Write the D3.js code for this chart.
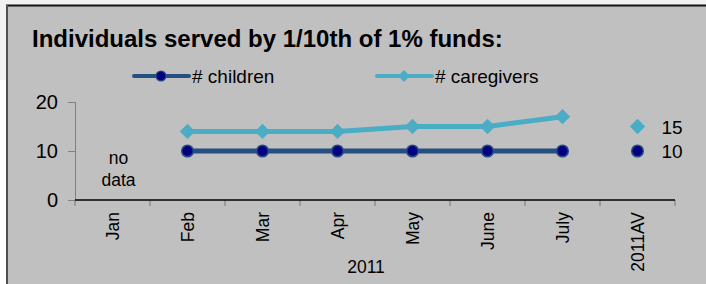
<!DOCTYPE html>
<html>
<head>
<meta charset="utf-8">
<script src="https://cdn.jsdelivr.net/npm/d3@7"></script>
<style>
  html, body { margin: 0; padding: 0; background: #fff; }
  svg { display: block; font-family: "Liberation Sans", Arial, sans-serif; }
</style>
</head>
<body>
<svg id="chart" width="706" height="284"></svg>
<script>
// data
let categories = ["Jan", "Feb", "Mar", "Apr", "May", "June", "July", "2011AV"];
let monthCats = categories.slice(0, 7);
let children = [null, 10, 10, 10, 10, 10, 10];
let caregivers = [null, 14, 14, 14, 15, 15, 17];
let avgCategory = "2011AV";
let avgChildren = 10;
let avgCaregivers = 15;
let yTicks = [0, 10, 20];

let darkBlue = "#254e82";
let navy = "#000080";
let lightBlue = "#4bacc6";

let svg = d3.select("#chart");

// page edges round the chart box
svg.append("rect").attr("x", 0).attr("y", 0).attr("width", 706).attr("height", 6).attr("fill", "#f2f2f2");
svg.append("rect").attr("x", 0).attr("y", 0).attr("width", 7).attr("height", 80).attr("fill", "#f2f2f2");

// chart box
svg.append("rect").attr("x", 7).attr("y", 6).attr("width", 699).attr("height", 278).attr("fill", "#c0c0c0");
svg.append("line").attr("x1", 6).attr("x2", 706).attr("y1", 5.5).attr("y2", 5.5)
    .attr("stroke", "#111").attr("stroke-width", 2);
svg.append("line").attr("x1", 7).attr("x2", 7).attr("y1", 5).attr("y2", 284)
    .attr("stroke", "#505050").attr("stroke-width", 2);

// title
svg.append("text")
    .attr("x", 32).attr("y", 47)
    .attr("font-size", 24).attr("font-weight", "bold")
    .attr("fill", "#000")
    .text("Individuals served by 1/10th of 1% funds:");

let x = d3.scaleBand().domain(categories).range([75, 675]);
let y = d3.scaleLinear().domain([0, 20]).range([200, 102]);

// y axis
let yAxis = svg.append("g")
    .attr("transform", "translate(75,0)")
    .call(d3.axisLeft(y).tickValues(yTicks).tickSize(7).tickPadding(10));
yAxis.select(".domain").attr("stroke", "#808080");
yAxis.selectAll(".tick line").attr("stroke", "#808080");
yAxis.selectAll(".tick text")
    .attr("font-size", 20).attr("fill", "#000")
    .attr("font-family", "Liberation Sans, Arial, sans-serif");

// x axis: ticks between categories
let xAxis = svg.append("g").attr("transform", "translate(0,200)");
let bounds = categories.map(c => x(c)).concat([x.range()[1]]);
xAxis.selectAll("line.tk").data(bounds).enter().append("line")
    .attr("class", "tk")
    .attr("x1", d => d).attr("x2", d => d)
    .attr("y1", 0).attr("y2", 6)
    .attr("stroke", "#808080").attr("stroke-width", 1.2);
xAxis.append("line")
    .attr("x1", x.range()[0]).attr("x2", x.range()[1])
    .attr("y1", 0).attr("y2", 0)
    .attr("stroke", "#000").attr("stroke-width", 1.4);
xAxis.selectAll("text.lbl").data(categories).enter().append("text")
    .attr("class", "lbl")
    .attr("transform", d => "translate(" + (x(d) + x.bandwidth() / 2 + 6) + ",12) rotate(-90)")
    .attr("text-anchor", "end")
    .attr("font-size", 17.5)
    .attr("fill", "#000")
    .text(d => d);

svg.append("text")
    .attr("x", 366).attr("y", 273)
    .attr("text-anchor", "middle").attr("font-size", 17.5)
    .text("2011");

// no data note
let noData = svg.append("text")
    .attr("x", x("Jan") + x.bandwidth() / 2 + 6)
    .attr("text-anchor", "middle").attr("font-size", 17.5);
noData.append("tspan").attr("x", x("Jan") + x.bandwidth() / 2 + 6).attr("y", 164).text("no");
noData.append("tspan").attr("x", x("Jan") + x.bandwidth() / 2 + 6).attr("y", 186).text("data");

let cx = c => x(c) + x.bandwidth() / 2;

let line = d3.line()
    .defined(d => d.v != null)
    .x(d => cx(d.c))
    .y(d => y(d.v));

let careData = monthCats.map((c, i) => ({c: c, v: caregivers[i]}));
let childData = monthCats.map((c, i) => ({c: c, v: children[i]}));

let diamond = d3.symbol().type(d3.symbolDiamond2);

// caregivers series
svg.append("path")
    .datum(careData)
    .attr("d", line)
    .attr("fill", "none").attr("stroke", lightBlue).attr("stroke-width", 5);
svg.selectAll("path.care").data(careData.filter(d => d.v != null)).enter().append("path")
    .attr("class", "care")
    .attr("transform", d => "translate(" + cx(d.c) + "," + y(d.v) + ")")
    .attr("d", diamond.size(150))
    .attr("fill", lightBlue);

// children series
svg.append("path")
    .datum(childData)
    .attr("d", line)
    .attr("fill", "none").attr("stroke", darkBlue).attr("stroke-width", 5);
svg.selectAll("circle.child").data(childData.filter(d => d.v != null)).enter().append("circle")
    .attr("class", "child")
    .attr("cx", d => cx(d.c)).attr("cy", d => y(d.v))
    .attr("r", 5.8)
    .attr("fill", navy).attr("stroke", darkBlue).attr("stroke-width", 1.5);

// yearly averages, markers only with labels
svg.append("path")
    .attr("transform", "translate(" + cx(avgCategory) + "," + y(avgCaregivers) + ")")
    .attr("d", diamond.size(150))
    .attr("fill", lightBlue);
svg.append("circle")
    .attr("cx", cx(avgCategory)).attr("cy", y(avgChildren))
    .attr("r", 5.8)
    .attr("fill", navy).attr("stroke", darkBlue).attr("stroke-width", 1.5);
svg.append("text")
    .attr("x", cx(avgCategory) + 24).attr("y", y(avgCaregivers) + 7)
    .attr("font-size", 19).text(avgCaregivers);
svg.append("text")
    .attr("x", cx(avgCategory) + 24).attr("y", y(avgChildren) + 7)
    .attr("font-size", 19).text(avgChildren);

// legend
let legend = svg.append("g");
legend.append("line").attr("x1", 134).attr("x2", 189).attr("y1", 76).attr("y2", 76)
    .attr("stroke", darkBlue).attr("stroke-width", 4).attr("stroke-linecap", "round");
legend.append("circle").attr("cx", 161).attr("cy", 76).attr("r", 5)
    .attr("fill", navy).attr("stroke", darkBlue).attr("stroke-width", 1.2);
legend.append("text").attr("x", 192).attr("y", 83).attr("font-size", 19).text("# children");

legend.append("line").attr("x1", 377).attr("x2", 432).attr("y1", 76).attr("y2", 76)
    .attr("stroke", lightBlue).attr("stroke-width", 4).attr("stroke-linecap", "round");
legend.append("path").attr("transform", "translate(404,76)")
    .attr("d", d3.symbol().type(d3.symbolDiamond2).size(90)).attr("fill", lightBlue);
legend.append("text").attr("x", 435).attr("y", 83).attr("font-size", 19).text("# caregivers");
</script>
</body>
</html>
